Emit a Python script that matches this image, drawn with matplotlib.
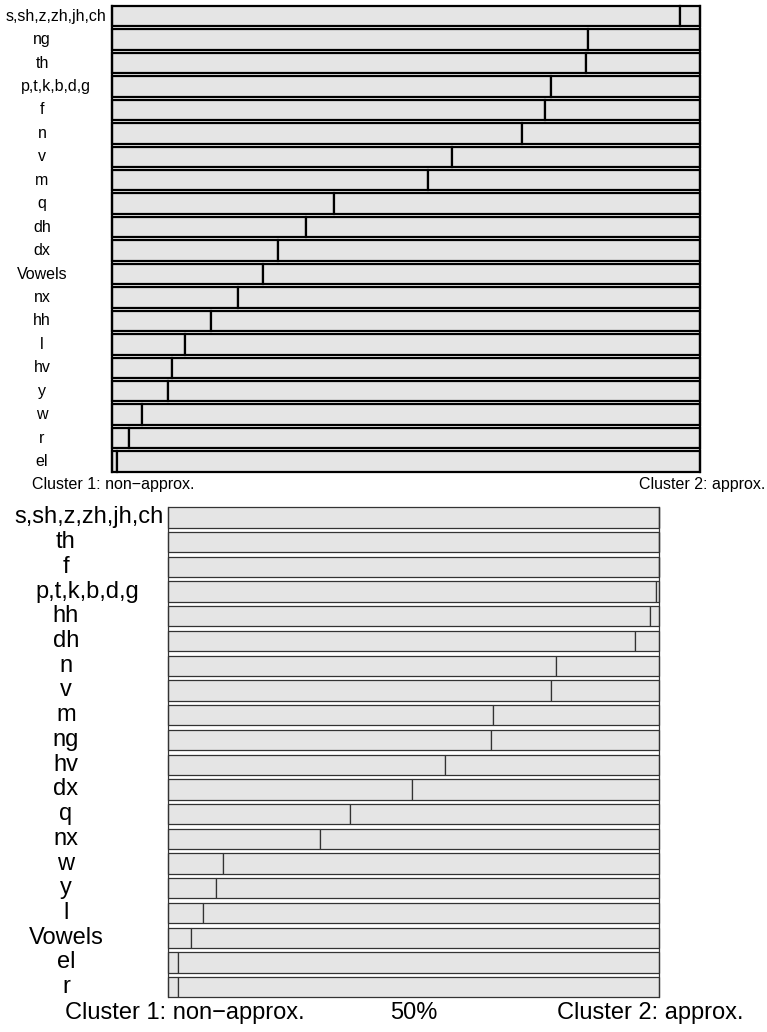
import matplotlib
matplotlib.use("Agg")
import matplotlib.pyplot as plt
import matplotlib.transforms as mtransforms

plt.rcParams['font.family'] = ['Liberation Sans', 'DejaVu Sans']

# share of each phoneme class assigned to cluster 1 (rest goes to cluster 2)
TOP_LABELS = ['s,sh,z,zh,jh,ch', 'ng', 'th', 'p,t,k,b,d,g', 'f', 'n', 'v', 'm',
              'q', 'dh', 'dx', 'Vowels', 'nx', 'hh', 'l', 'hv', 'y', 'w', 'r', 'el']
TOP_SHARE = [0.966, 0.810, 0.806, 0.747, 0.737, 0.697, 0.578, 0.538,
             0.378, 0.330, 0.282, 0.258, 0.215, 0.169, 0.125, 0.102,
             0.096, 0.051, 0.029, 0.0085]

BOTTOM_LABELS = ['s,sh,z,zh,jh,ch', 'th', 'f', 'p,t,k,b,d,g', 'hh', 'dh', 'n', 'v',
                 'm', 'ng', 'hv', 'dx', 'q', 'nx', 'w', 'y', 'l', 'Vowels', 'el', 'r']
BOTTOM_SHARE = [1.0, 1.0, 1.0, 0.993, 0.981, 0.950, 0.790, 0.779,
                0.662, 0.657, 0.564, 0.497, 0.371, 0.309, 0.112, 0.097,
                0.070, 0.046, 0.020, 0.019]

LEFT_NAME = 'Cluster 1: non\u2212approx.'
RIGHT_NAME = 'Cluster 2: approx.'
MID_NAME = '50%'

W, H = 767, 1032
FILL = '#e5e5e5'


def px_x(x):
    return x / W


def px_y(y):
    return 1 - y / H


def draw_panel(fig, rect, labels, share, bar_h, lw, edge, fs, label_cx, long_shift):
    ax = fig.add_axes(rect)
    ys = list(range(len(labels)))
    rest = [1 - s for s in share]
    ax.barh(ys, share, height=bar_h, left=0, color=FILL, edgecolor=edge,
            linewidth=lw, clip_on=False)
    ax.barh(ys, rest, height=bar_h, left=share, color=FILL, edgecolor=edge,
            linewidth=lw, clip_on=False)
    ax.set_xlim(0, 1)
    ax.set_ylim(len(labels) - 1 + bar_h / 2, -bar_h / 2)
    ax.set_xticks([])
    ax.set_yticks([])
    for side in ('top', 'bottom'):
        ax.spines[side].set_visible(False)
    for side in ('left', 'right'):
        ax.spines[side].set_linewidth(lw)
        ax.spines[side].set_color(edge)
    tr = mtransforms.blended_transform_factory(fig.transFigure, ax.transData)
    for y, lab in zip(ys, labels):
        cx = label_cx + long_shift.get(lab, 0)
        fig.text(px_x(cx), y, lab, transform=tr, ha='center', va='center',
                 fontsize=fs)
    return ax


fig = plt.figure(figsize=(W / 100, H / 100), dpi=100)

# top panel
draw_panel(fig, [px_x(111.7), px_y(471.7), 588.3 / W, 465.7 / H],
           TOP_LABELS, TOP_SHARE, 0.87, 1.6, 'black', 11.5, 42,
           {'s,sh,z,zh,jh,ch': 14, 'p,t,k,b,d,g': 14})
fig.text(px_x(31.7), px_y(485), LEFT_NAME, ha='left', va='center', fontsize=11.5)
fig.text(px_x(765), px_y(485), RIGHT_NAME, ha='right', va='center', fontsize=11.5)

# bottom panel
draw_panel(fig, [px_x(168.3), px_y(997.3), 491 / W, 490 / H],
           BOTTOM_LABELS, BOTTOM_SHARE, 0.82, 0.9, '#333333', 17, 66,
           {'s,sh,z,zh,jh,ch': 23, 'p,t,k,b,d,g': 21})
fig.text(px_x(65), px_y(1013), LEFT_NAME, ha='left', va='center', fontsize=17)
fig.text(px_x(413.5), px_y(1013), MID_NAME, ha='center', va='center', fontsize=17)
fig.text(px_x(743.3), px_y(1013), RIGHT_NAME, ha='right', va='center', fontsize=17)

fig.savefig('out.png', dpi=100)
